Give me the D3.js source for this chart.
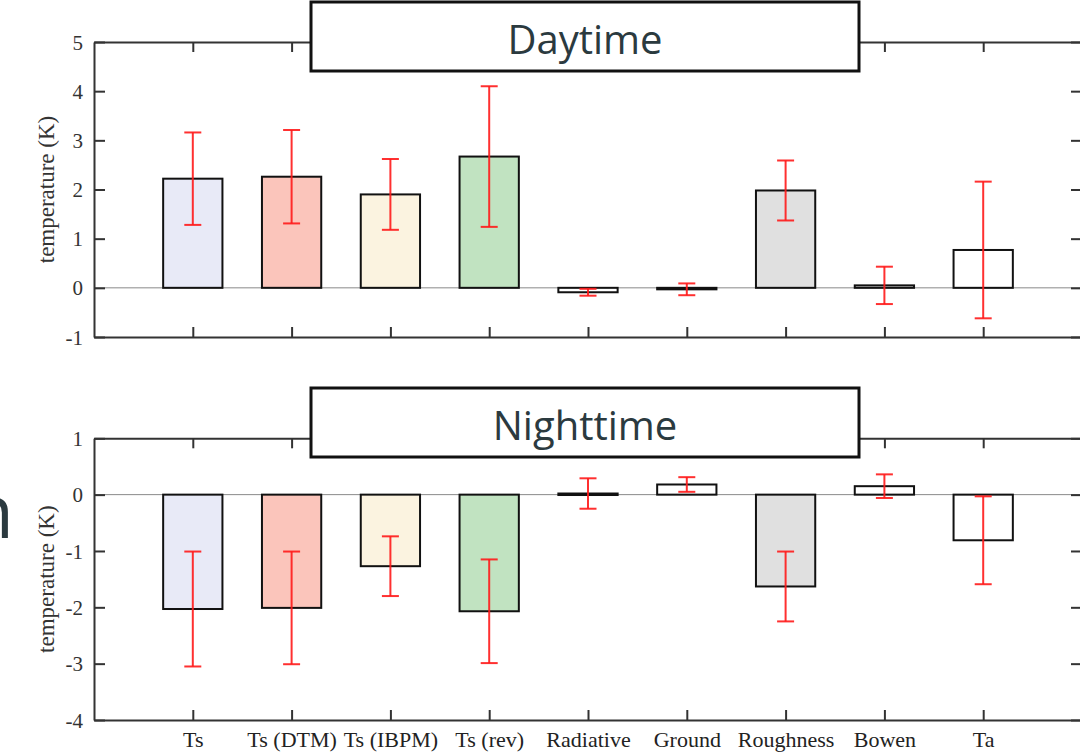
<!DOCTYPE html>
<html>
<head>
<meta charset="utf-8">
<script src="https://cdn.jsdelivr.net/npm/d3@7"></script>
<style>
  html, body { margin: 0; padding: 0; background: #fff; }
  svg { display: block; }
</style>
</head>
<body>
<svg id="chart" width="1080" height="753"></svg>
<script>
// ---- data ----
const categories = ["Ts", "Ts (DTM)", "Ts (IBPM)", "Ts (rev)", "Radiative", "Ground", "Roughness", "Bowen", "Ta"];
const barColors = ["#e8eaf7", "#fbc5bb", "#fbf3e0", "#c1e3c1", "#ffffff", "#ffffff", "#e0e0e0", "#ffffff", "#ffffff"];

const dayValues = [2.22, 2.26, 1.90, 2.67, -0.09, -0.03, 1.98, 0.05, 0.77];
const dayErrors = [0.94, 0.95, 0.72, 1.43, 0.07, 0.12, 0.61, 0.38, 1.39];
const dayTicks = [-1, 0, 1, 2, 3, 4, 5];

const nightValues = [-2.03, -2.01, -1.27, -2.07, 0.02, 0.18, -1.63, 0.15, -0.81];
const nightErrors = [1.02, 1.00, 0.53, 0.92, 0.27, 0.13, 0.62, 0.21, 0.78];
const nightTicks = [-4, -3, -2, -1, 0, 1];

const panelTitles = ["Daytime", "Nighttime"];
const yAxisTitle = "temperature (K)";

// ---- drawing ----
const svg = d3.select("#chart");
const serif = "'Liberation Serif', 'Times New Roman', serif";
const sans = "'Open Sans', 'Noto Sans', sans-serif";

// stray glyph at the left edge (part of cut-off text in the original)
svg.append("text")
  .attr("x", 14).attr("y", 538)
  .attr("text-anchor", "end")
  .style("font-family", sans).style("font-size", "75px")
  .attr("fill", "#2b3a3f")
  .text("n");

const x = d3.scaleLinear().domain([0, categories.length + 1]).range([94, 1082]);
const barW = x(0.6) - x(0);

function drawPanel(cfg) {
  const y = d3.scaleLinear().domain(cfg.domain).range([cfg.bottom, cfg.top]);
  const g = svg.append("g");
  const left = x.range()[0], right = x.range()[1];

  // zero line
  g.append("line")
    .attr("x1", left).attr("x2", right)
    .attr("y1", y(0)).attr("y2", y(0))
    .attr("stroke", "#8a8a8a").attr("stroke-width", 1);

  // bars
  g.selectAll("rect.bar").data(cfg.values).enter().append("rect")
    .attr("class", "bar")
    .attr("x", (d, i) => x(i + 1) - barW / 2)
    .attr("width", barW)
    .attr("y", d => Math.min(y(d), y(0)))
    .attr("height", d => Math.max(Math.abs(y(d) - y(0)), 1.5))
    .attr("fill", (d, i) => barColors[i])
    .attr("stroke", "#111").attr("stroke-width", 2);

  // error bars
  const eg = g.selectAll("g.err").data(cfg.values).enter().append("g")
    .attr("class", "err")
    .attr("stroke", "#ff1a1a").attr("stroke-width", 2).attr("stroke-opacity", 0.9);
  eg.append("line")
    .attr("x1", (d, i) => x(i + 1)).attr("x2", (d, i) => x(i + 1))
    .attr("y1", (d, i) => y(d + cfg.errors[i])).attr("y2", (d, i) => y(d - cfg.errors[i]));
  eg.append("line")
    .attr("x1", (d, i) => x(i + 1) - 8.5).attr("x2", (d, i) => x(i + 1) + 8.5)
    .attr("y1", (d, i) => y(d + cfg.errors[i])).attr("y2", (d, i) => y(d + cfg.errors[i]));
  eg.append("line")
    .attr("x1", (d, i) => x(i + 1) - 8.5).attr("x2", (d, i) => x(i + 1) + 8.5)
    .attr("y1", (d, i) => y(d - cfg.errors[i])).attr("y2", (d, i) => y(d - cfg.errors[i]));

  // axes (ticks inward, box)
  const catTicks = d3.range(1, categories.length + 1);
  const axStyle = sel => {
    sel.select(".domain").attr("stroke", "#333").attr("stroke-width", 2);
    sel.selectAll(".tick line").attr("stroke", "#333").attr("stroke-width", 2);
  };
  const bottomAx = g.append("g").attr("transform", `translate(0,${cfg.bottom})`)
    .call(d3.axisBottom(x).tickValues(catTicks).tickSizeInner(-10).tickSizeOuter(0)
      .tickFormat(cfg.showLabels ? (d => categories[d - 1]) : () => ""));
  axStyle(bottomAx);
  bottomAx.selectAll(".tick text")
    .attr("y", 27).attr("dy", 0)
    .style("font-family", serif).style("font-size", "22px").attr("fill", "#222");
  const topAx = g.append("g").attr("transform", `translate(0,${cfg.top})`)
    .call(d3.axisTop(x).tickValues(catTicks).tickSizeInner(-10).tickSizeOuter(0).tickFormat(() => ""));
  axStyle(topAx);
  const leftAx = g.append("g").attr("transform", `translate(${left},0)`)
    .call(d3.axisLeft(y).tickValues(cfg.ticks).tickSizeInner(-11).tickSizeOuter(0).tickFormat(d3.format("d")));
  axStyle(leftAx);
  leftAx.selectAll(".tick text")
    .attr("x", -11).attr("dy", "0.34em")
    .style("font-family", serif).style("font-size", "21px").attr("fill", "#333");
  leftAx.selectAll(".tick text").text(d => (d < 0 ? "-" + Math.abs(d) : d));
  const rightAx = g.append("g").attr("transform", `translate(${right},0)`)
    .call(d3.axisRight(y).tickValues(cfg.ticks).tickSizeInner(-11).tickSizeOuter(0).tickFormat(() => ""));
  axStyle(rightAx);

  // y axis title
  g.append("text")
    .attr("transform", `translate(54,${(cfg.top + cfg.bottom) / 2}) rotate(-90)`)
    .attr("text-anchor", "middle")
    .style("font-family", serif).style("font-size", "23px").attr("fill", "#333")
    .text(yAxisTitle);

  // title box
  g.append("rect")
    .attr("x", 311).attr("y", cfg.boxTop).attr("width", 548).attr("height", 69)
    .attr("fill", "#fff").attr("stroke", "#111").attr("stroke-width", 3);
  g.append("text")
    .attr("x", 585).attr("y", cfg.boxTop + 52)
    .attr("text-anchor", "middle")
    .style("font-family", sans).style("font-size", "40px").attr("fill", "#2b3a3f")
    .text(cfg.title);
}

drawPanel({ domain: [-1, 5], top: 42, bottom: 337, values: dayValues, errors: dayErrors,
  ticks: dayTicks, title: panelTitles[0], boxTop: 2, showLabels: false });
drawPanel({ domain: [-4, 1], top: 438.3, bottom: 720, values: nightValues, errors: nightErrors,
  ticks: nightTicks, title: panelTitles[1], boxTop: 388, showLabels: true });
</script>
</body>
</html>
